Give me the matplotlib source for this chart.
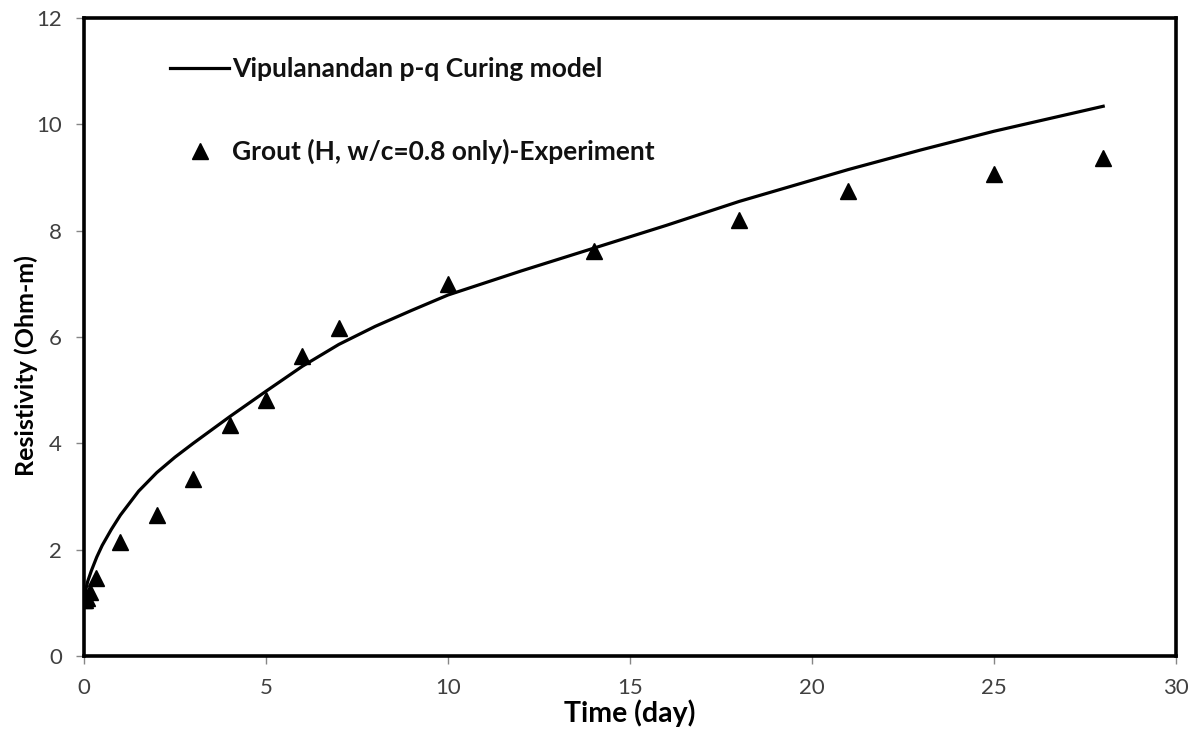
import matplotlib
matplotlib.use('Agg')
import matplotlib.pyplot as plt

plt.rcParams['font.family'] = ['Lato', 'DejaVu Sans']

# 实验数据 (day, Ohm-m)
exp_day = [0, 0.04, 0.08, 0.17, 0.33, 1, 2, 3, 4, 5, 6, 7, 10, 14, 18, 21, 25, 28]
exp_res = [1.05, 1.05, 1.1, 1.2, 1.46, 2.15, 2.66, 3.33, 4.35, 4.81, 5.65, 6.17,
           7.0, 7.61, 8.2, 8.75, 9.06, 9.37]

# 模型曲线
model_day = [0, 0.1, 0.2, 0.35, 0.5, 0.75, 1, 1.5, 2, 2.5, 3, 3.5, 4, 5, 6, 7, 8, 9,
             10, 12, 14, 16, 18, 21, 23, 25, 28]
model_res = [1.1, 1.4, 1.6, 1.86, 2.08, 2.38, 2.65, 3.1, 3.45, 3.74, 4.0, 4.25, 4.5,
             4.98, 5.45, 5.86, 6.2, 6.5, 6.79, 7.24, 7.67, 8.1, 8.55, 9.15, 9.52, 9.87, 10.34]

x_ticks = [0, 5, 10, 15, 20, 25, 30]
y_ticks = [0, 2, 4, 6, 8, 10, 12]

fig = plt.figure(figsize=(12.02, 7.34), dpi=100)
ax = fig.add_axes([84 / 1202, 78 / 734, 1092 / 1202, 638 / 734])

line, = ax.plot(model_day, model_res, color='black', linewidth=2.3,
                label='Vipulanandan p-q Curing model')
pts, = ax.plot(exp_day, exp_res, linestyle='none', marker='^', markersize=11,
               color='black', label='Grout (H, w/c=0.8 only)-Experiment')

ax.set_xlim(0, 30)
ax.set_ylim(0, 12)
ax.set_xticks(x_ticks)
ax.set_yticks(y_ticks)
ax.tick_params(direction='out', length=6, width=1, color='#868686',
               labelsize=16, labelcolor='#404040', pad=10)
for s in ax.spines.values():
    s.set_linewidth(2.6)
    s.set_color('black')

ax.set_xlabel('Time (day)', fontsize=20.5, fontweight='bold', labelpad=1)
ax.set_ylabel('Resistivity (Ohm-m)', fontsize=18, fontweight='bold')
ax.yaxis.set_label_coords(-0.042, 0.456)

leg = ax.legend(handles=[line, pts], loc='upper left',
                bbox_to_anchor=(170 / 1202, 1 - 57 / 734), bbox_transform=fig.transFigure,
                frameon=False, fontsize=19, handlelength=2.25, handletextpad=0.1,
                labelspacing=2.2, borderpad=0, borderaxespad=0)
for t in leg.get_texts():
    t.set_fontweight('bold')
    t.set_color('#111111')

plt.savefig('out.png', dpi=100)
